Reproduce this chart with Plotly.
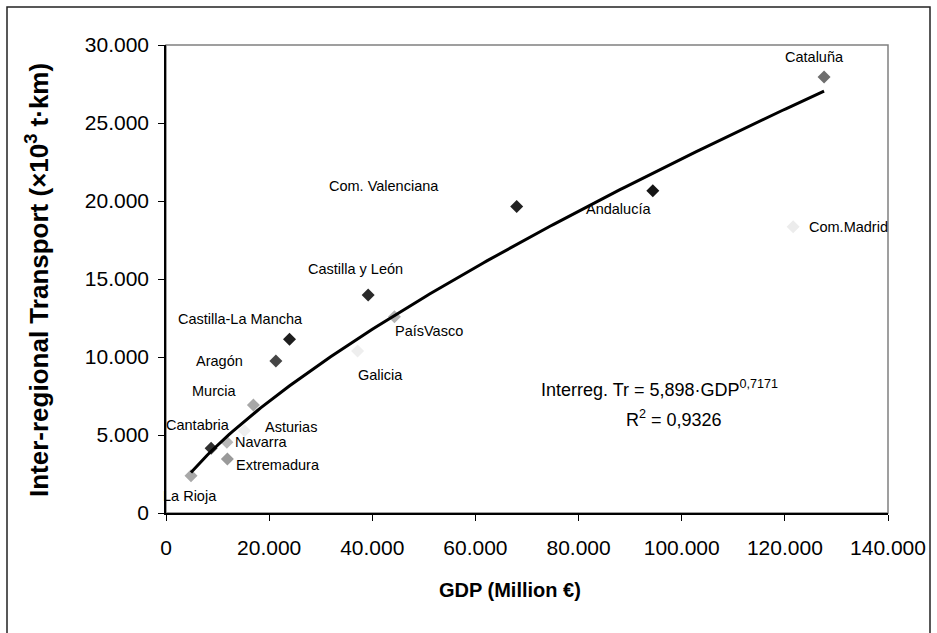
import numpy as np
import plotly.graph_objects as go

# Regional data: GDP (million €) vs inter-regional freight transport (10^3 t·km)
regions = ["Cataluña", "Com. Valenciana", "Andalucía", "Com.Madrid", "Castilla y León",
           "PaísVasco", "Galicia", "Castilla-La Mancha", "Aragón", "Murcia",
           "Asturias", "Cantabria", "Navarra", "Extremadura", "La Rioja"]
gdp = [127600, 68000, 94400, 121600, 39200,
       44300, 37150, 23950, 21300, 16950,
       15200, 8750, 11800, 11900, 4850]
transport = [27950, 19650, 20650, 18350, 13970,
             12580, 10380, 11130, 9740, 6920,
             5280, 4150, 4530, 3460, 2380]
marker_colors = ["#6e6e6e", "#222222", "#151515", "#ececec", "#2a2a2a",
                 "#b4b4b4", "#eeeeee", "#1e1e1e", "#454545", "#a8a8a8",
                 "#eeeeee", "#303030", "#b8b8b8", "#9a9a9a", "#a8a8a8"]
# label offsets from each marker, in pixels (x right, y up)
label_dx = [-10, -133, -34, 55, -13, 35, 23, -49, -56, -39, 47, -13, 35, 51, -1]
label_dy = [20, 20, -18, 0, 26, -14, -24, 20, 0, 14, 4, 23, 0, -6, -20]

# Power-law fit: Tr = a * GDP^b
fit_a = 5.898
fit_b = 0.7171
fit_r2 = 0.9326

x_ticks = [0, 20000, 40000, 60000, 80000, 100000, 120000, 140000]
y_ticks = [0, 5000, 10000, 15000, 20000, 25000, 30000]

FONT = "Liberation Sans, Arial, sans-serif"

# plot area in pixels: x 166..888, y 45..513
PL, PR, PT, PB = 166, 888, 45, 513


def px(xp):
    return (xp - PL) / (PR - PL)


def py(yp):
    return (PB - yp) / (PB - PT)


fig = go.Figure()

fig.add_trace(go.Scatter(
    x=gdp, y=transport, mode="markers",
    marker=dict(symbol="diamond", size=10, color=marker_colors, line=dict(width=0)),
    hoverinfo="text", text=regions, showlegend=False,
))

xs = np.linspace(min(gdp), max(gdp), 200)
fig.add_trace(go.Scatter(
    x=xs, y=fit_a * xs ** fit_b, mode="lines",
    line=dict(color="black", width=3), showlegend=False, hoverinfo="skip",
))

for name, gx, ty, dx, dy in zip(regions, gdp, transport, label_dx, label_dy):
    fig.add_annotation(x=gx, y=ty, text=name, showarrow=False,
                       xanchor="center", yanchor="middle",
                       xshift=dx, yshift=dy,
                       font=dict(family=FONT, size=14.5, color="black"))


def fmt(v):
    return f"{v}".replace(".", ",")


fig.add_annotation(xref="paper", yref="paper", x=px(659), y=py(388),
                   xanchor="center", yanchor="middle",
                   text=f"Interreg. Tr = {fmt(fit_a)}·GDP<sup>{fmt(fit_b)}</sup>",
                   showarrow=False, font=dict(family=FONT, size=18, color="black"))
fig.add_annotation(xref="paper", yref="paper", x=px(674), y=py(418),
                   xanchor="center", yanchor="middle",
                   text=f"R<sup>2</sup> = {fmt(fit_r2)}",
                   showarrow=False, font=dict(family=FONT, size=18, color="black"))

# axis titles
fig.add_annotation(xref="paper", yref="paper", x=px(37), y=py(280),
                   xanchor="center", yanchor="middle",
                   text="Inter-regional Transport (×10<sup>3</sup> t·km)", textangle=-90,
                   showarrow=False, font=dict(family=FONT, size=26, color="black", weight="bold"))
fig.add_annotation(xref="paper", yref="paper", x=px(510), y=py(590),
                   xanchor="center", yanchor="middle",
                   text="GDP (Million €)",
                   showarrow=False, font=dict(family=FONT, size=20, color="black", weight="bold"))

# plot-area border (top/right) and outer chart frame
fig.add_shape(type="rect", xref="paper", yref="paper", x0=0, x1=1, y0=0, y1=1,
              line=dict(color="#808080", width=1.5), layer="below")
fig.add_shape(type="rect", xref="paper", yref="paper",
              x0=px(7), x1=px(930), y0=py(650), y1=py(7),
              line=dict(color="#222222", width=1.5))

fig.update_layout(
    width=937, height=633,
    margin=dict(l=PL, r=937 - PR, t=PT, b=633 - PB),
    paper_bgcolor="white", plot_bgcolor="white",
    separators=",.",
    font=dict(family=FONT, size=21, color="black"),
    xaxis=dict(range=[0, 140000], tickvals=x_ticks, tickformat=",d",
               showgrid=False, zeroline=False, showline=True, linecolor="black", linewidth=1.5,
               ticks="outside", ticklen=6, tickcolor="black", tickfont=dict(size=21),
               ticklabelstandoff=9),
    yaxis=dict(range=[0, 30000], tickvals=y_ticks, tickformat=",d",
               showgrid=False, zeroline=False, showline=True, linecolor="black", linewidth=1.5,
               ticks="outside", ticklen=6, tickcolor="black", tickfont=dict(size=21),
               ticklabelstandoff=5),
)

fig.write_html("out.html")
